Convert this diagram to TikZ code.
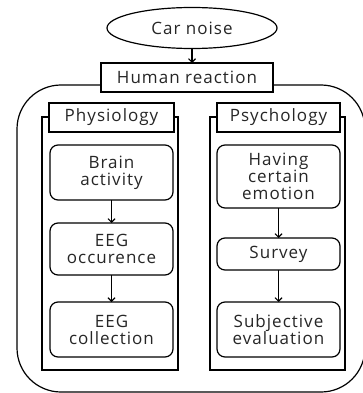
\documentclass[tikz,border=0pt]{standalone}
\usepackage{fontspec}
\setmainfont{Open Sans}[LetterSpace=6.0]
\usetikzlibrary{shapes.geometric,arrows.meta}
\begin{document}
\begin{tikzpicture}[x=1pt,y=-1pt,
  every node/.style={inner sep=0pt,outer sep=0pt,align=center,text=black!85,font=\fontsize{17}{17}\selectfont},
  box/.style={draw,line width=1.2pt,fill=white,rectangle},
  rbox/.style={draw,line width=1.2pt,fill=white,rectangle,rounded corners=8pt},
  frame/.style={draw,line width=1.2pt,rectangle},
  arr/.style={line width=1.1pt,-{Straight Barb[length=3.5pt,width=7pt]}}]
\useasboundingbox (0,0) rectangle (362,393);
\node[frame,rounded corners=44pt,minimum width=348pt,minimum height=307pt] (outer) at (191,238.5) {};
\node[draw,line width=1.2pt,ellipse,minimum width=170pt,minimum height=41pt] (car) at (192,28) {Car noise};
\node[box,minimum width=172pt,minimum height=29pt] (human) at (187,77.5) {Human reaction};
\node[frame,minimum width=136pt,minimum height=253pt] (physcol) at (110,243.5) {};
\node[frame,minimum width=135pt,minimum height=253pt] (psycol) at (277.5,243.5) {};
\node[box,minimum width=125pt,minimum height=29pt] (physlbl) at (111.5,117.5) {Physiology};
\node[box,minimum width=123pt,minimum height=29pt] (psylbl) at (278.5,117.5) {Psychology};
\node[rbox,minimum width=123pt,minimum height=55pt] (brain) at (111.5,172.5) {Brain\\activity};
\node[rbox,minimum width=123pt,minimum height=52pt] (occ) at (111.5,249) {EEG\\occurence};
\node[rbox,minimum width=123pt,minimum height=55pt] (coll) at (111.5,329.5) {EEG\\collection};
\node[rbox,minimum width=123pt,minimum height=63pt] (emo) at (278.5,176.5) {Having\\certain\\emotion};
\node[rbox,minimum width=123pt,minimum height=32pt] (survey) at (278.5,254) {Survey};
\node[rbox,minimum width=123pt,minimum height=55pt] (subj) at (278.5,329.5) {Subjective\\evaluation};
\draw[arr] (car.south) -- (car.south |- human.north);
\draw[arr] (brain) -- (occ);
\draw[arr] (occ) -- (coll);
\draw[arr] (emo) -- (survey);
\draw[arr] (survey) -- (subj);
\end{tikzpicture}
\end{document}
